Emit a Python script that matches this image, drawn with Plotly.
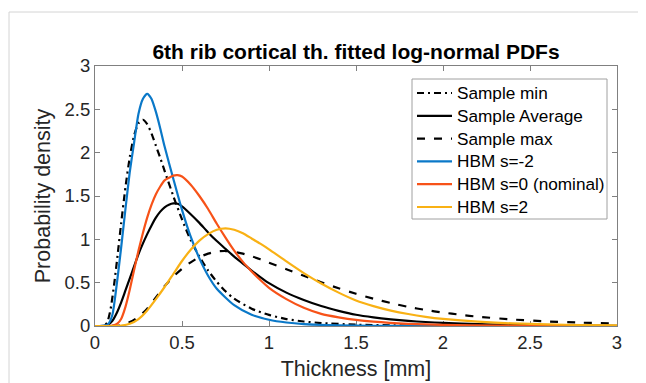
import plotly.graph_objects as go

# ---- data ----
thick_min = [0, 0.05, 0.07, 0.09, 0.11, 0.13, 0.15, 0.175, 0.2, 0.225, 0.25, 0.275, 0.3, 0.325, 0.35, 0.375, 0.4,
             0.45, 0.5, 0.55, 0.6, 0.65, 0.7, 0.75, 0.8, 0.9, 1.0, 1.1, 1.2, 1.3, 1.5, 1.8, 2.2, 3.0]
pdf_min = [0, 0.003, 0.04, 0.20, 0.48, 0.82, 1.18, 1.60, 1.95, 2.20, 2.34, 2.38, 2.33, 2.22, 2.08, 1.94, 1.79,
           1.50, 1.23, 0.99, 0.80, 0.64, 0.51, 0.40, 0.315, 0.20, 0.128, 0.08, 0.052, 0.034, 0.015, 0.005, 0.0015, 0]

thick_avg = [0, 0.05, 0.075, 0.1, 0.125, 0.15, 0.175, 0.2, 0.225, 0.25, 0.275, 0.3, 0.325, 0.35, 0.375, 0.4, 0.425,
             0.45, 0.475, 0.5, 0.55, 0.6, 0.65, 0.7, 0.75, 0.8, 0.85, 0.9, 0.95, 1.0, 1.1, 1.2, 1.3, 1.4, 1.5, 1.6,
             1.7, 1.8, 1.9, 2.0, 2.2, 2.5, 3.0]
pdf_avg = [0, 0.002, 0.015, 0.06, 0.15, 0.27, 0.41, 0.55, 0.69, 0.83, 0.95, 1.06, 1.16, 1.25, 1.32, 1.37, 1.40,
           1.415, 1.41, 1.38, 1.29, 1.19, 1.08, 0.98, 0.89, 0.80, 0.72, 0.64, 0.565, 0.495, 0.385, 0.30, 0.23, 0.175,
           0.13, 0.10, 0.077, 0.059, 0.046, 0.036, 0.021, 0.009, 0.003]

thick_max = [0, 0.1, 0.15, 0.2, 0.25, 0.3, 0.35, 0.4, 0.45, 0.5, 0.55, 0.6, 0.65, 0.7, 0.75, 0.8, 0.85, 0.9, 0.95,
             1.0, 1.1, 1.2, 1.3, 1.4, 1.5, 1.6, 1.7, 1.8, 1.9, 2.0, 2.1, 2.2, 2.4, 2.6, 2.8, 3.0]
pdf_max = [0, 0.0005, 0.008, 0.045, 0.105, 0.20, 0.33, 0.46, 0.57, 0.66, 0.735, 0.795, 0.835, 0.86, 0.865, 0.855,
           0.835, 0.805, 0.77, 0.73, 0.655, 0.58, 0.505, 0.435, 0.372, 0.315, 0.265, 0.22, 0.185, 0.155, 0.13,
           0.107, 0.075, 0.053, 0.038, 0.028]

thick_m2 = [0, 0.05, 0.075, 0.1, 0.125, 0.15, 0.175, 0.2, 0.225, 0.25, 0.275, 0.3, 0.325, 0.35, 0.375, 0.4, 0.45,
            0.5, 0.55, 0.6, 0.65, 0.7, 0.8, 0.9, 1.0, 1.1, 1.2, 1.4, 1.6, 2.0, 3.0]
pdf_m2 = [0, 0.001, 0.02, 0.13, 0.48, 0.90, 1.35, 1.78, 2.12, 2.45, 2.62, 2.68, 2.62, 2.47, 2.28, 2.07, 1.70,
          1.34, 1.03, 0.78, 0.58, 0.43, 0.24, 0.13, 0.072, 0.04, 0.022, 0.007, 0.0025, 0.0003, 0]

thick_0 = [0, 0.1, 0.13, 0.15, 0.175, 0.2, 0.225, 0.25, 0.275, 0.3, 0.325, 0.35, 0.375, 0.4, 0.425, 0.45, 0.475,
           0.5, 0.55, 0.6, 0.65, 0.7, 0.75, 0.8, 0.85, 0.9, 0.95, 1.0, 1.1, 1.2, 1.3, 1.4, 1.5, 1.6, 1.8, 2.0, 2.3,
           2.6, 3.0]
pdf_0 = [0, 0.005, 0.03, 0.08, 0.22, 0.42, 0.65, 0.87, 1.07, 1.25, 1.40, 1.52, 1.61, 1.68, 1.71, 1.735, 1.74,
         1.725, 1.63, 1.50, 1.35, 1.18, 1.02, 0.87, 0.74, 0.63, 0.53, 0.44, 0.31, 0.21, 0.14, 0.10, 0.07, 0.05,
         0.025, 0.012, 0.005, 0.002, 0]

thick_p2 = [0, 0.1, 0.15, 0.2, 0.25, 0.3, 0.35, 0.4, 0.45, 0.5, 0.55, 0.6, 0.65, 0.7, 0.75, 0.8, 0.85, 0.9, 0.95,
            1.0, 1.1, 1.2, 1.3, 1.4, 1.5, 1.6, 1.7, 1.8, 1.9, 2.0, 2.2, 2.4, 2.6, 2.8, 3.0]
pdf_p2 = [0, 0, 0.005, 0.025, 0.08, 0.18, 0.31, 0.45, 0.60, 0.75, 0.88, 0.985, 1.06, 1.11, 1.127, 1.11, 1.07,
          1.01, 0.95, 0.885, 0.745, 0.61, 0.49, 0.385, 0.295, 0.23, 0.178, 0.138, 0.106, 0.082, 0.05, 0.03,
          0.018, 0.011, 0.007]

x_ticks = [0, 0.5, 1, 1.5, 2, 2.5, 3]
x_ticklabels = ["0", "0.5", "1", "1.5", "2", "2.5", "3"]
y_ticks = [0, 0.5, 1, 1.5, 2, 2.5, 3]
y_ticklabels = ["0", "0.5", "1", "1.5", "2", "2.5", "3"]

FONT = "Liberation Sans, Arial, Helvetica, sans-serif"

series = [
    ("Sample min", thick_min, pdf_min, "#000000", "7px,4px,2px,4px"),
    ("Sample Average", thick_avg, pdf_avg, "#000000", "solid"),
    ("Sample max", thick_max, pdf_max, "#000000", "8px,9px"),
    ("HBM s=-2", thick_m2, pdf_m2, "#0a78c8", "solid"),
    ("HBM s=0 (nominal)", thick_0, pdf_0, "#f75218", "solid"),
    ("HBM s=2", thick_p2, pdf_p2, "#f9b114", "solid"),
]

fig = go.Figure()
for name, xs, ys, color, dash in series:
    fig.add_trace(go.Scatter(
        x=xs, y=ys, mode="lines", name=name, showlegend=False,
        line=dict(color=color, width=2.2, dash=dash, shape="spline", smoothing=0.6),
    ))

axis_common = dict(
    ticks="inside", ticklen=5, tickcolor="#808080", tickwidth=1,
    showline=True, linecolor="#808080", linewidth=1, mirror="ticks",
    showgrid=False, zeroline=False, layer="below traces",
    tickfont=dict(family=FONT, size=18.5, color="#262626"),
)

# page body has an 8px margin, so the figure is laid out 8px up/left of the target spots
OFF = 8
L, R, T, B = 95 - OFF, 617 - OFF, 66 - OFF, 326 - OFF
W, H = 646, 383


def px(xp):   # page x pixel -> paper x
    return (xp - 95) / 522


def py(yp):   # page y pixel -> paper y
    return (326 - yp) / 260


fig.update_layout(
    width=W, height=H,
    margin=dict(l=L, r=W - R, t=T, b=H - B),
    paper_bgcolor="white", plot_bgcolor="white",
    font=dict(family=FONT, size=17, color="#262626"),
    title=dict(text="<b>6th rib cortical th. fitted log-normal PDFs</b>",
               x=0.5, xref="paper", xanchor="center",
               y=1 - (52 - OFF) / H, yref="container", yanchor="middle",
               font=dict(family=FONT, size=21, color="#000000")),
    xaxis=dict(range=[0, 3], tickvals=x_ticks, ticktext=x_ticklabels,
               title=dict(text="Thickness [mm]", font=dict(family=FONT, size=21.5, color="#262626"), standoff=8),
               **axis_common),
    yaxis=dict(range=[0, 3], tickvals=y_ticks, ticktext=y_ticklabels,
               title=dict(text="Probability density", font=dict(family=FONT, size=21.5, color="#262626"), standoff=8),
               **axis_common),
    showlegend=False,
)

# legend box drawn as shapes + text annotations (MATLAB-style compact spacing)
fig.add_shape(type="rect", xref="paper", yref="paper",
              x0=px(412), x1=px(607), y0=py(79), y1=py(219),
              line=dict(color="#a0a0a0", width=1), fillcolor="white", layer="above")
for i, (name, xs, ys, color, dash) in enumerate(series):
    yc = 93 + 22.8 * i
    fig.add_shape(type="line", xref="paper", yref="paper",
                  x0=px(417), x1=px(452), y0=py(yc), y1=py(yc),
                  line=dict(color=color, width=2.2, dash=dash), layer="above")
    fig.add_annotation(x=px(455), y=py(yc), xref="paper", yref="paper",
                       text=name, showarrow=False, xanchor="left", yanchor="middle",
                       font=dict(family=FONT, size=17.2, color="#000000"))

# thin frame lines of the figure at top and left
fx = px(9)
fy = py(12)
fig.add_shape(type="line", xref="paper", yref="paper",
              x0=fx, x1=px(660), y0=fy, y1=fy,
              line=dict(color="#d4d4d4", width=1))
fig.add_shape(type="line", xref="paper", yref="paper",
              x0=fx, x1=fx, y0=fy, y1=py(400),
              line=dict(color="#d4d4d4", width=1))

fig.write_html("out.html")
